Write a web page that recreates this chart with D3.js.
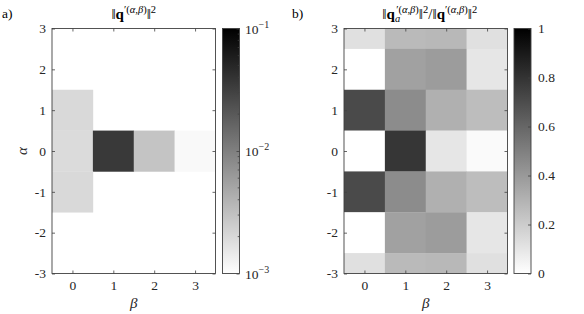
<!DOCTYPE html>
<html><head><meta charset="utf-8">
<script src="https://cdn.jsdelivr.net/npm/d3@7"></script>
<style>
body{margin:0;background:#fff;}
</style></head><body>
<svg id="c" width="584" height="314" font-family="Liberation Serif"></svg>
<script>
// ---- data ----
const betas = [0, 1, 2, 3];
const alphas = [3, 2, 1, 0, -1, -2, -3];
const xTicks = [0, 1, 2, 3];
const yTicks = [-3, -2, -1, 0, 1, 2, 3];
// panel a: ||q'||^2 (null = empty/white), rows follow alphas
const normA = [
  [null, null, null, null],
  [null, null, null, null],
  [0.0020, null, null, null],
  [0.0019, 0.036, 0.0029, 0.00112],
  [0.0020, null, null, null],
  [null, null, null, null],
  [null, null, null, null]
];
// panel b: ratio, rows follow alphas
const ratioB = [
  [0.12, 0.27, 0.28, 0.12],
  [0.00, 0.37, 0.39, 0.10],
  [0.71, 0.45, 0.31, 0.26],
  [0.00, 0.79, 0.10, 0.02],
  [0.71, 0.45, 0.31, 0.26],
  [0.00, 0.37, 0.39, 0.10],
  [0.12, 0.27, 0.28, 0.12]
];
const cbTicksA = [1e-3, 1e-2, 1e-1];
const cbMinorA = [2e-3,3e-3,4e-3,5e-3,6e-3,7e-3,8e-3,9e-3,2e-2,3e-2,4e-2,5e-2,6e-2,7e-2,8e-2,9e-2];
const cbTicksB = [0, 0.2, 0.4, 0.6, 0.8, 1];

const FONT = "Liberation Serif";
const svg = d3.select("#c");
const axCol = "#404040";
const fs = 13.5;
const y0 = 28.5, y1 = 273.5;
const defs = svg.append("defs");
const grad = defs.append("linearGradient").attr("id","gr").attr("x1",0).attr("y1",1).attr("x2",0).attr("y2",0);
grad.append("stop").attr("offset","0%").attr("stop-color","#fff");
grad.append("stop").attr("offset","100%").attr("stop-color","#000");

function panel(opt){
  const x = d3.scaleLinear().domain([-0.5, 3.5]).range([opt.x0, opt.x1]);
  const y = d3.scaleLinear().domain([-3, 3]).range([y1, y0]);
  const g = svg.append("g");
  const cid = "clip" + opt.id;
  defs.append("clipPath").attr("id", cid).append("rect")
    .attr("x", opt.x0).attr("y", y0).attr("width", opt.x1 - opt.x0).attr("height", y1 - y0);
  const cells = [];
  alphas.forEach((a, i) => betas.forEach((b, j) => {
    const v = opt.data[i][j];
    if (v !== null) cells.push({a, b, v});
  }));
  g.append("g").attr("clip-path", `url(#${cid})`).selectAll("rect").data(cells).join("rect")
    .attr("x", d => x(d.b - 0.5)).attr("y", d => y(d.a + 0.5))
    .attr("width", d => x(d.b + 0.5) - x(d.b - 0.5) + 0.3)
    .attr("height", d => y(d.a - 0.5) - y(d.a + 0.5) + 0.3)
    .attr("fill", d => opt.color(d.v));
  const tl = 3;
  const ax = [
    g.append("g").attr("transform", `translate(0,${y1})`).call(d3.axisBottom(x).tickValues(xTicks).tickSize(-tl).tickPadding(7).tickFormat(d3.format("d"))),
    g.append("g").attr("transform", `translate(0,${y0})`).call(d3.axisTop(x).tickValues(xTicks).tickSize(-tl).tickFormat("")),
    g.append("g").attr("transform", `translate(${opt.x0},0)`).call(d3.axisLeft(y).tickValues(yTicks).tickSize(-tl).tickPadding(6).tickFormat(d => d < 0 ? "-" + Math.abs(d) : d)),
    g.append("g").attr("transform", `translate(${opt.x1},0)`).call(d3.axisRight(y).tickValues(yTicks).tickSize(-tl).tickFormat(""))
  ];
  ax.forEach(a => {
    a.attr("font-family", null).attr("font-size", null);
    a.select(".domain").remove();
    a.selectAll("line").attr("stroke", axCol).attr("stroke-width", 0.8);
    a.selectAll("text").attr("fill", "#262626").attr("font-family", FONT).attr("font-size", fs);
  });
  g.append("rect").attr("x", opt.x0).attr("y", y0).attr("width", opt.x1 - opt.x0).attr("height", y1 - y0)
    .attr("fill", "none").attr("stroke", axCol).attr("stroke-width", 0.9);
  g.append("text").attr("x", (opt.x0 + opt.x1) / 2).attr("y", 308).attr("text-anchor", "middle")
    .attr("font-family", FONT).attr("font-size", 15).attr("font-style", "italic").attr("fill", "#262626").text("β");
  const cb = svg.append("g");
  cb.append("rect").attr("x", opt.cx).attr("y", y0).attr("width", opt.cw).attr("height", y1 - y0).attr("fill", "url(#gr)");
  const cs = opt.cbScale.range([y1, y0]);
  const cax = cb.append("g").attr("transform", `translate(${opt.cx + opt.cw},0)`)
    .call(d3.axisRight(cs).tickValues(opt.cbTicks).tickSize(-tl).tickPadding(7).tickFormat(opt.cbFmt));
  cax.attr("font-family", null).attr("font-size", null);
  cax.select(".domain").remove();
  cax.selectAll("line").attr("stroke", axCol).attr("stroke-width", 0.8);
  cax.selectAll("text").attr("fill", "#262626").attr("font-family", FONT).attr("font-size", fs);
  if (opt.cbMinor) {
    cb.append("g").selectAll("line").data(opt.cbMinor).join("line")
      .attr("x1", opt.cx + opt.cw - 1.8).attr("x2", opt.cx + opt.cw)
      .attr("y1", d => cs(d)).attr("y2", d => cs(d)).attr("stroke", axCol).attr("stroke-width", 0.8);
  }
  cb.append("rect").attr("x", opt.cx).attr("y", y0).attr("width", opt.cw).attr("height", y1 - y0)
    .attr("fill", "none").attr("stroke", axCol).attr("stroke-width", 0.9);
  return {g, x, y, cax};
}

const colA = d3.scaleLog().domain([1e-3, 1e-1]).range(["#fff", "#000"]).interpolate(d3.interpolateRgb).clamp(true);
const colB = d3.scaleLinear().domain([0, 1]).range(["#fff", "#000"]).clamp(true);

const pA = panel({id:"a", x0:52, x1:215.5, data:normA, color:colA, cx:222.5, cw:17,
  cbScale:d3.scaleLog().domain([1e-3,1e-1]), cbTicks:cbTicksA, cbMinor:cbMinorA, cbFmt:() => ""});
const pB = panel({id:"b", x0:344, x1:507.5, data:ratioB, color:colB, cx:514, cw:17,
  cbScale:d3.scaleLinear().domain([0,1]), cbTicks:cbTicksB, cbMinor:null, cbFmt:d => d3.format("~g")(d)});

const csA = d3.scaleLog().domain([1e-3,1e-1]).range([y1, y0]);
pA.cax.selectAll(".tick text").remove();
cbTicksA.forEach(v => {
  const t = svg.append("text").attr("x", 245).attr("y", csA(v) + 5).attr("font-family", FONT).attr("font-size", fs).attr("fill", "#262626");
  t.append("tspan").text("10");
  t.append("tspan").attr("dy", -6).attr("font-size", 10).text("−" + Math.round(-Math.log10(v)));
});

svg.append("text").attr("transform", `translate(27,${(y0+y1)/2}) rotate(-90)`).attr("text-anchor","middle")
  .attr("font-family", FONT).attr("font-size", 15).attr("font-style","italic").attr("fill","#262626").text("α");

svg.append("text").attr("x", 2).attr("y", 18).attr("font-family", FONT).attr("font-size", fs).attr("fill","#000").text("a)");
svg.append("text").attr("x", 292).attr("y", 18).attr("font-family", FONT).attr("font-size", fs).attr("fill","#000").text("b)");

const tfs = 15, sfs = 10.5;
const tA = svg.append("text").attr("x", (52+215.5)/2).attr("y", 19).attr("text-anchor","middle")
  .attr("font-family", FONT).attr("font-size", tfs).attr("fill","#000");
tA.append("tspan").text("‖");
tA.append("tspan").attr("font-weight","bold").text("q");
tA.append("tspan").attr("dy",-6).attr("font-size",sfs).text("′(");
tA.append("tspan").attr("font-size",sfs).attr("font-style","italic").text("α");
tA.append("tspan").attr("font-size",sfs).text(",");
tA.append("tspan").attr("font-size",sfs).attr("font-style","italic").text("β");
tA.append("tspan").attr("font-size",sfs).text(")");
tA.append("tspan").attr("dy",6).text("‖");
tA.append("tspan").attr("dy",-6).attr("font-size",sfs).text("2");

const tB = svg.append("text").attr("x", (344+507.5)/2 + 4).attr("y", 19).attr("text-anchor","middle")
  .attr("font-family", FONT).attr("font-size", tfs).attr("fill","#000");
tB.append("tspan").text("‖");
tB.append("tspan").attr("font-weight","bold").text("q");
tB.append("tspan").attr("dy",3).attr("font-size",sfs).attr("font-style","italic").text("a");
tB.append("tspan").attr("dx",-4).attr("dy",-9).attr("font-size",sfs).text("′(");
tB.append("tspan").attr("font-size",sfs).attr("font-style","italic").text("α");
tB.append("tspan").attr("font-size",sfs).text(",");
tB.append("tspan").attr("font-size",sfs).attr("font-style","italic").text("β");
tB.append("tspan").attr("font-size",sfs).text(")");
tB.append("tspan").attr("dy",6).text("‖");
tB.append("tspan").attr("dy",-6).attr("font-size",sfs).text("2");
tB.append("tspan").attr("dy",6).text("/‖");
tB.append("tspan").attr("font-weight","bold").text("q");
tB.append("tspan").attr("dy",-6).attr("font-size",sfs).text("′(");
tB.append("tspan").attr("font-size",sfs).attr("font-style","italic").text("α");
tB.append("tspan").attr("font-size",sfs).text(",");
tB.append("tspan").attr("font-size",sfs).attr("font-style","italic").text("β");
tB.append("tspan").attr("font-size",sfs).text(")");
tB.append("tspan").attr("dy",6).text("‖");
tB.append("tspan").attr("dy",-6).attr("font-size",sfs).text("2");
</script>
</body></html>
